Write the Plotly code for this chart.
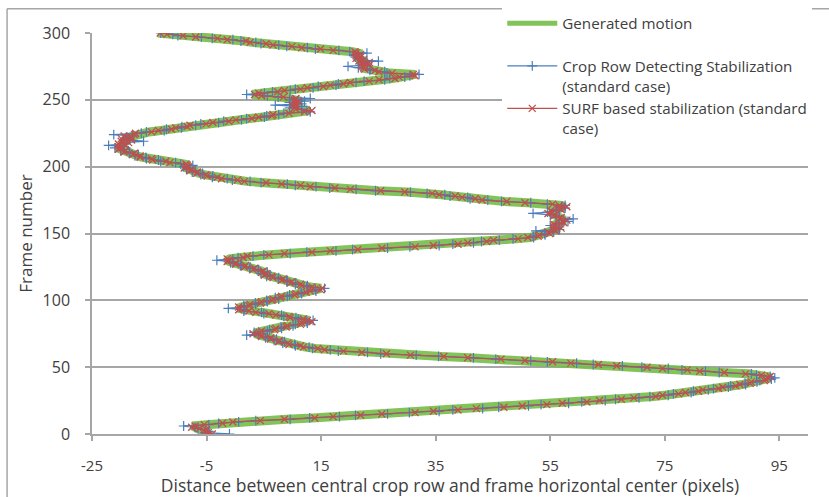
import plotly.graph_objects as go

# frame numbers 0..300
frames = list(range(301))

# generated motion (pixels), one value per frame
generated = [
    -4.5, -5, -5, -5.5, -6, -7.2, -7.5, -5, -2.5, 0,
    4, 9, 13.5, 17.5, 21.5, 26, 31, 35, 38.5, 42.5,
    46.5, 50.5, 54, 57.5, 61, 64, 67, 70, 73, 75,
    77, 79, 80.5, 82, 84, 85.5, 87, 88.5, 89.5, 90.5,
    92, 93, 93.5, 93, 91.5, 89.5, 85, 81.5, 78.5, 75,
    71.5, 67, 63, 59, 55, 51, 46, 41, 36, 31,
    26, 22.5, 18.5, 16, 14, 12.3, 11, 9.8, 8.8, 8,
    7.3, 6.6, 5.8, 5, 4, 3.5, 3.8, 5, 6.5, 7.5,
    8.5, 9.5, 11, 12, 13, 13, 11.5, 10, 9, 7.5,
    5.5, 4, 2, 1, 0.5, 1, 2, 3, 4, 5,
    6, 7, 7.5, 8.5, 10, 11, 12, 13.5, 14.5, 15,
    13, 12, 11, 10, 9.5, 8.5, 8, 7, 6, 5.5,
    5, 5, 4.5, 3.5, 3, 2, 1.4, 0.5, -0.3, -1,
    -1.5, -1, 1, 2.5, 5.5, 9, 13, 17, 21, 26,
    31, 35, 38.5, 41, 43.5, 45.5, 49, 51.5, 52.5, 53.5,
    54.5, 55, 55.5, 56, 56.5, 56, 55.5, 56, 57, 57.5,
    57.5, 57, 56.5, 56, 55.5, 55, 55, 55.5, 56.5, 57,
    57.5, 57, 55, 51, 47, 43.5, 41.5, 40, 38, 36,
    34, 30, 25, 20.5, 17, 13.5, 11, 8.5, 5, 2,
    0, -2, -3.5, -4.5, -5.5, -6.3, -7, -7.5, -8, -8.5,
    -8.5, -8, -9, -11, -12.5, -14, -15, -16.2, -17, -17.5,
    -18, -19, -19.5, -20, -20.5, -20, -19.5, -20, -19, -19.5,
    -18.5, -19.5, -18.5, -19, -18, -17, -15, -13, -11.5, -10,
    -8.8, -7.5, -5.5, -3.5, -1.5, 0.5, 2.5, 4.5, 6, 7,
    9, 12.5, 13, 11, 10, 11, 9.5, 11, 10, 11.5,
    10, 11, 8, 5, 3, 4.5, 7, 9, 11, 13,
    15, 17, 18.5, 20.5, 23, 25.5, 27.5, 29, 31, 31.5,
    27, 25.5, 24, 23, 22, 22.5, 23, 22.5, 23, 22,
    22, 21.5, 21.5, 21.5, 21.5, 21.5, 20.5, 17.5, 14.5, 12,
    9.5, 7, 5, 3, 1.5, -1, -3.5, -6.5, -9.5, -11.5,
    -13.5,
]

# crop row detecting stabilization (standard case)
crop_row = [
    -1.0, -5.3, -4.6, -5.2, -6.5, -7.0, -9.0, -4.6, -2.9, 0.6,
    3.6, 9.6, 13.0, 18.2, 21.0, 26.6, 30.4, 35.6, 38.0, 43.2,
    46.0, 51.2, 53.4, 58.2, 60.5, 64.6, 66.4, 70.5, 72.4, 75.6,
    76.5, 79.6, 80.0, 82.6, 83.5, 86.1, 86.5, 89.1, 89.0, 91.1,
    91.6, 93.6, 94.2, 93.4, 91.0, 90.1, 84.5, 82.1, 78.0, 75.6,
    71.0, 67.6, 62.5, 59.6, 54.5, 51.6, 45.5, 41.6, 35.5, 31.6,
    25.4, 23.1, 18.0, 16.6, 13.5, 12.9, 10.5, 10.4, 8.3, 8.6,
    6.8, 7.2, 5.3, 5.6, 2.0, 4.1, 3.3, 5.6, 6.0, 8.1,
    8.0, 10.1, 10.5, 12.6, 12.5, 13.6, 11.0, 10.6, 8.5, 8.1,
    5.0, 4.6, 1.5, 1.6, -1.2, 1.6, 1.5, 3.6, 3.5, 5.6,
    5.5, 7.6, 7.0, 9.1, 9.5, 11.6, 11.5, 14.1, 14.0, 15.6,
    12.5, 12.6, 10.5, 10.6, 9.0, 9.1, 7.5, 7.6, 5.5, 6.1,
    4.5, 5.6, 4.0, 4.1, 2.5, 2.6, 0.9, 1.1, -0.8, -0.4,
    -3.2, -0.4, 0.5, 3.1, 5.0, 9.6, 12.5, 17.6, 20.5, 26.6,
    30.5, 35.6, 38.0, 41.6, 43.0, 46.1, 48.5, 52.1, 52.0, 54.1,
    54.0, 55.6, 52.5, 56.6, 56.0, 56.6, 55.0, 56.6, 56.5, 58.1,
    57.0, 59.0, 56.0, 56.6, 55.0, 52.0, 54.5, 56.1, 56.0, 57.6,
    57.0, 57.6, 54.5, 51.6, 46.5, 44.1, 41.0, 40.6, 37.5, 36.6,
    33.5, 30.6, 24.5, 21.1, 16.5, 14.1, 10.5, 9.1, 4.5, 2.6,
    -0.5, -1.4, -4.0, -3.9, -6.0, -5.7, -7.5, -6.9, -8.5, -7.9,
    -9.0, -7.4, -9.5, -10.4, -13.0, -13.4, -15.5, -15.6, -17.5, -16.9,
    -18.5, -18.4, -20.0, -19.4, -21.0, -19.4, -22.1, -19.4, -19.5, -16.0,
    -19.0, -18.9, -19.0, -17.9, -21.2, -16.4, -15.5, -12.4, -12.0, -9.4,
    -9.3, -6.9, -6.0, -2.9, -2.0, 1.1, 2.0, 5.1, 5.5, 7.6,
    8.5, 13.1, 12.5, 11.6, 9.5, 11.6, 7.0, 11.6, 9.5, 12.1,
    9.5, 13.1, 7.5, 5.6, 2.0, 5.1, 6.5, 9.6, 10.5, 13.6,
    14.5, 17.6, 18.0, 21.1, 22.5, 26.1, 27.0, 29.6, 30.5, 32.1,
    26.5, 26.1, 23.5, 23.6, 21.5, 19.7, 22.5, 23.1, 22.0, 25.0,
    21.5, 22.1, 21.0, 20.9, 21.0, 23.0, 20.0, 18.1, 14.0, 12.6,
    9.0, 7.6, 4.5, 3.6, 1.0, -0.4, -4.0, -5.9, -10.0, -10.9,
    -13.0,
]

# SURF based stabilization (standard case)
surf = [
    -4.0, -4.7, -5.4, -5.0, -6.3, -7.6, -7.0, -5.4, -2.2, -0.4,
    4.4, 8.6, 13.9, 17.1, 21.9, 25.6, 31.4, 34.6, 38.9, 42.1,
    46.9, 50.1, 54.4, 57.1, 61.4, 63.6, 67.4, 69.6, 73.4, 74.6,
    77.4, 78.6, 80.9, 81.6, 84.4, 85.1, 87.4, 88.1, 89.9, 90.1,
    92.4, 92.6, 93.0, 93.4, 91.9, 89.1, 85.4, 81.1, 78.9, 74.6,
    71.9, 66.6, 63.4, 58.6, 55.4, 50.6, 46.4, 40.6, 36.4, 30.6,
    26.4, 22.1, 18.9, 15.6, 14.4, 11.9, 11.4, 9.4, 9.2, 7.6,
    7.7, 6.2, 6.2, 4.6, 4.4, 3.1, 4.2, 4.6, 6.9, 7.1,
    8.9, 9.1, 11.4, 11.6, 13.4, 12.6, 11.9, 9.6, 9.4, 7.1,
    5.9, 3.6, 2.4, 0.6, 0.9, 0.6, 2.4, 2.6, 4.4, 4.6,
    6.4, 6.6, 7.9, 8.1, 10.4, 10.6, 12.4, 13.1, 14.9, 15.2,
    13.4, 11.6, 11.4, 9.6, 9.9, 8.1, 8.4, 6.6, 6.4, 5.1,
    5.4, 4.6, 4.9, 3.1, 3.4, 1.6, 1.8, 0.1, 0.1, -1.4,
    -1.1, -1.4, 1.4, 2.1, 5.9, 8.6, 13.4, 16.6, 21.4, 25.6,
    31.4, 34.6, 38.9, 40.6, 43.9, 45.1, 49.4, 51.1, 52.9, 53.1,
    54.9, 54.6, 55.9, 55.6, 56.9, 55.6, 55.9, 55.6, 57.4, 57.1,
    57.9, 56.6, 56.9, 55.6, 55.9, 54.6, 55.4, 55.1, 56.9, 56.6,
    57.9, 56.6, 55.4, 50.6, 47.4, 43.1, 41.9, 39.6, 38.4, 35.6,
    34.4, 29.6, 25.4, 20.1, 17.4, 13.1, 11.4, 8.1, 5.4, 1.6,
    0.4, -2.4, -3.1, -4.9, -5.1, -6.7, -6.6, -7.9, -7.6, -8.9,
    -8.1, -8.4, -8.6, -11.4, -12.1, -14.4, -14.6, -16.6, -16.6, -17.9,
    -17.6, -19.4, -19.1, -20.4, -20.1, -20.4, -19.1, -20.4, -18.6, -19.9,
    -18.1, -19.9, -18.1, -19.4, -17.6, -17.4, -14.6, -13.4, -11.1, -10.4,
    -8.4, -7.9, -5.1, -3.9, -1.1, 0.1, 2.9, 4.1, 6.4, 6.6,
    9.4, 12.1, 13.4, 10.6, 10.4, 10.6, 9.9, 10.6, 10.4, 11.1,
    10.4, 10.6, 8.4, 4.6, 3.4, 4.1, 7.4, 8.6, 11.4, 12.6,
    15.4, 16.6, 18.9, 20.1, 23.4, 25.1, 27.9, 28.6, 31.4, 31.1,
    27.4, 25.1, 24.4, 22.6, 22.4, 22.1, 23.4, 22.1, 23.4, 21.6,
    22.4, 21.1, 21.9, 21.1, 21.9, 21.1, 20.9, 17.1, 14.9, 11.6,
    9.9, 6.6, 5.4, 2.6, 1.9, -1.4, -3.1, -6.9, -9.1, -11.9,
    -13.1,
]

x_ticks = [-25, -5, 15, 35, 55, 75, 95]
x_tick_text = ["-25", "-5", "15", "35", "55", "75", "95"]

grey = "#a6a6a6"
text_col = "#404040"
green = "rgba(118,190,72,0.9)"

fig = go.Figure()

# thick band, legend entry drawn by a thinner legend-only copy
fig.add_trace(go.Scatter(x=generated, y=frames,
                         mode="lines", showlegend=False,
                         line=dict(color=green, width=9)))
fig.add_trace(go.Scatter(x=[None], y=[None],
                         mode="lines",
                         name="Generated motion<br>&nbsp;",
                         line=dict(color=green, width=5)))

fig.add_trace(go.Scatter(x=crop_row, y=frames,
                         mode="lines+markers",
                         name="Crop Row Detecting Stabilization<br>(standard case)",
                         line=dict(color="#4a7ebb", width=1.3),
                         marker=dict(symbol="cross-thin", size=7,
                                     line=dict(color="#4a7ebb", width=1.2))))

fig.add_trace(go.Scatter(x=surf, y=frames,
                         mode="lines+markers",
                         name="SURF based stabilization (standard<br>case)",
                         line=dict(color="#c0504d", width=1.2),
                         marker=dict(symbol="x-thin", size=7,
                                     line=dict(color="#c0504d", width=1.3))))

# chart-area frame (top and left edges are the only ones inside the window)
frame_line = dict(color=grey, width=1.5)
fig.update_layout(
    width=829, height=497,
    margin=dict(l=92, r=21, t=33, b=63, autoexpand=False),
    plot_bgcolor="white",
    paper_bgcolor="white",
    font=dict(family="Open Sans, sans-serif", size=16, color=text_col),
    legend=dict(x=0.573, y=1.065, xanchor="left", yanchor="top",
                bgcolor="white", valign="top", itemwidth=50,
                font=dict(size=15.2, color=text_col),
                tracegroupgap=0),
    shapes=[dict(type="line", xref="paper", yref="paper",
                 x0=-0.1186, x1=1.05, y0=1.0606, y1=1.0606,
                 line=frame_line, layer="above"),
            dict(type="line", xref="paper", yref="paper",
                 x0=-0.1186, x1=-0.1186, y0=-0.16, y1=1.0606,
                 line=frame_line, layer="above")],
)

fig.update_xaxes(range=[-25, 100], tickvals=x_ticks, ticktext=x_tick_text,
                 showgrid=False, zeroline=False, automargin=False,
                 showline=True, linecolor=grey, linewidth=1.5,
                 ticks="outside", ticklen=5, tickcolor=grey, tickwidth=1.5,
                 ticklabelstandoff=12, tickfont=dict(size=15),
                 title=dict(text="Distance between central crop row and frame horizontal center (pixels)",
                            font=dict(size=17.5), standoff=3))

fig.update_yaxes(range=[0, 300], dtick=50,
                 showgrid=True, gridcolor=grey, gridwidth=1.5, zeroline=False,
                 showline=True, linecolor=grey, linewidth=1.5, automargin=False,
                 ticks="outside", ticklen=5, tickcolor=grey, tickwidth=1.5,
                 ticklabelstandoff=12,
                 title=dict(text="Frame number", font=dict(size=17), standoff=6))

# page body has a default 8px margin; drop it so the figure fills the window
fig.write_html("out.html", config=dict(displayModeBar=False),
               post_script="document.body.style.margin='0px';")
